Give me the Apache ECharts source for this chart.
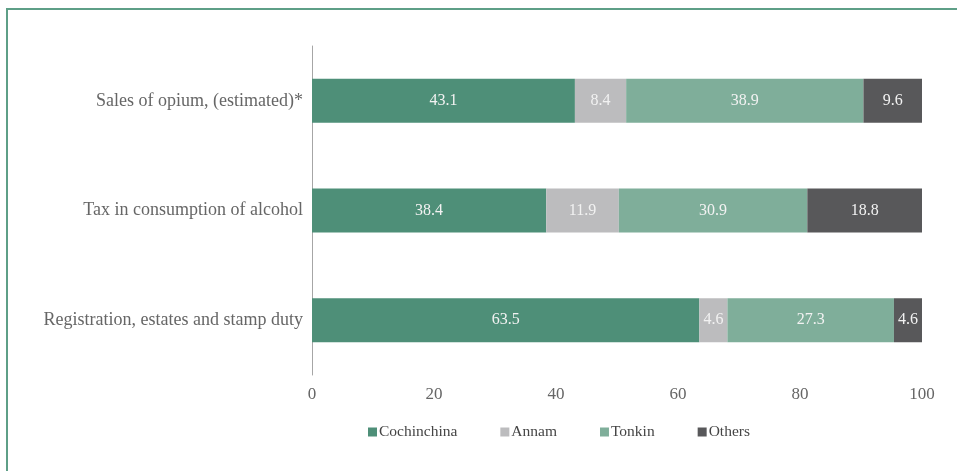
<!DOCTYPE html>
<html>
<head>
<meta charset="utf-8">
<script src="https://cdn.jsdelivr.net/npm/echarts@6/dist/echarts.min.js"></script>
<style>
	html, body { margin: 0; padding: 0; background: #fff; }
	.wrap { position: relative; width: 957px; height: 471px; overflow: hidden; }
	.frame {
		position: absolute; left: 6px; top: 8px; width: 960px; height: 480px;
		border-top: 2px solid #5e9f87; border-left: 2px solid #5e9f87;
	}
	#chart { position: absolute; left: 0; top: 0; width: 957px; height: 471px; }
</style>
</head>
<body>
<div class="wrap">
	<div class="frame"></div>
	<div id="chart"></div>
</div>
<script>
// revenue categories, top to bottom
const categories = [
	'Sales of opium, (estimated)*',
	'Tax in consumption of alcohol',
	'Registration, estates and stamp duty'
];
const cochinchina = [43.1, 38.4, 63.5];
const annam = [8.4, 11.9, 4.6];
const tonkin = [38.9, 30.9, 27.3];
const others = [9.6, 18.8, 4.6];
const xTicks = [0, 20, 40, 60, 80, 100];

const fontFam = '"Liberation Serif", "DejaVu Serif", serif';

const mkSeries = (name, data, color) => ({
	name: name,
	type: 'bar',
	stack: 'total',
	data: data,
	barWidth: 44,
	itemStyle: { color: color },
	label: {
		show: true,
		position: 'inside',
		color: '#f2f2f2',
		fontFamily: fontFam,
		fontSize: 16
	}
});

const option = {
	animation: false,
	textStyle: { fontFamily: fontFam },
	grid: { left: 312, right: 35, top: 46, bottom: 96 },
	legend: {
		top: 419,
		left: 363,
		icon: 'rect',
		itemWidth: 9,
		itemHeight: 9,
		itemGap: 43,
		textStyle: { color: '#454545', fontFamily: fontFam, fontSize: 15.5, padding: [0, 0, 0, -3] },
		data: ['Cochinchina', 'Annam', 'Tonkin', 'Others']
	},
	xAxis: {
		type: 'value',
		min: xTicks[0],
		max: xTicks[xTicks.length - 1],
		interval: 20,
		axisLine: { show: false },
		axisTick: { show: false },
		splitLine: { show: false },
		axisLabel: { color: '#666666', fontFamily: fontFam, fontSize: 17, margin: 11 }
	},
	yAxis: {
		type: 'category',
		inverse: true,
		data: categories,
		axisLine: { show: true, lineStyle: { color: '#a6a6a6', width: 1 } },
		axisTick: { show: false },
		axisLabel: { color: '#666666', fontFamily: fontFam, fontSize: 18, margin: 9 }
	},
	series: [
		mkSeries('Cochinchina', cochinchina, '#4e8f78'),
		mkSeries('Annam', annam, '#bcbcbe'),
		mkSeries('Tonkin', tonkin, '#7fae9a'),
		mkSeries('Others', others, '#58585a')
	]
};

const myEcharts = echarts.init(document.getElementById('chart'));
myEcharts.setOption(option);
</script>
</body>
</html>
